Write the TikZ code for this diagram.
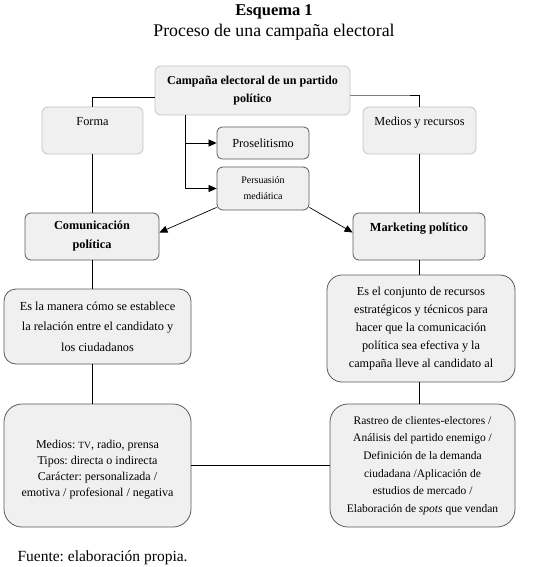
\documentclass[tikz,border=0pt]{standalone}
\usepackage{fontspec}
\setmainfont{Liberation Serif}
\usetikzlibrary{arrows.meta}
\definecolor{boxfill}{HTML}{F0F0F0}
\definecolor{lightb}{HTML}{C4C4C4}
\definecolor{darkb}{HTML}{5A5A5A}
\frenchspacing
\begin{document}
\begin{tikzpicture}[x=1pt,y=-1pt,
  box/.style={draw=#1, fill=boxfill, rounded corners=6pt, align=center, inner sep=0pt, line width=0.8pt},
  arr/.style={-{Triangle[length=8pt,width=7pt]}, line width=0.7pt},
  conn/.style={line width=0.7pt}]
\useasboundingbox (0,0) rectangle (548,567);

\node[anchor=base, font=\fontsize{16.5}{18}\selectfont\bfseries] (t1) at (274,16) {Esquema 1};
\node[anchor=base, font=\fontsize{17.8}{18}\selectfont] (t2) at (274,37) {Proceso de una campaña electoral};

\node[box=lightb, minimum width=195pt, minimum height=49pt, font=\fontsize{12.1}{18}\selectfont\bfseries] (camp) at (252.5,90.5) {Campaña electoral de un partido\\político};
\node[box=lightb, minimum width=101pt, minimum height=47pt, font=\fontsize{12.3}{18}\selectfont, text height=8pt, text depth=18pt] (forma) at (92.5,130.5) {Forma};
\node[box=lightb, minimum width=113pt, minimum height=47pt, font=\fontsize{12.3}{18}\selectfont, text height=8pt, text depth=18pt] (medios) at (419.5,130.5) {Medios y recursos};
\node[box=darkb, minimum width=92pt, minimum height=32pt, rounded corners=5pt, font=\fontsize{12.3}{18}\selectfont] (pros) at (263,143) {Proselitismo};
\node[box=darkb, minimum width=92pt, minimum height=43pt, font=\fontsize{10}{16}\selectfont] (pers) at (263,188.5) {Persuasión\\mediática};
\node[box=darkb, minimum width=134pt, minimum height=47pt, font=\fontsize{12.3}{19}\selectfont\bfseries] (com) at (92,236.5) {Comunicación\\política};
\node[box=darkb, minimum width=132pt, minimum height=47pt, font=\fontsize{12.3}{18}\selectfont\bfseries, text height=8pt, text depth=18pt] (mkt) at (419,236.5) {Marketing político};
\node[box=darkb, rounded corners=12pt, minimum width=187pt, minimum height=75pt, font=\fontsize{12.3}{20.5}\selectfont] (esla) at (97.5,326.5) {Es la manera cómo se establece\\la relación entre el candidato y\\los ciudadanos};
\node[box=darkb, rounded corners=15pt, minimum width=188pt, minimum height=107pt, font=\fontsize{12.2}{18}\selectfont] (esel) at (421,328.5) {Es el conjunto de recursos\\estratégicos y técnicos para\\hacer que la comunicación\\política sea efectiva y la\\campaña lleve al candidato al};
\node[box=darkb, rounded corners=18pt, minimum width=187pt, minimum height=123pt, font=\fontsize{12}{16}\selectfont] (bl) at (97.5,465.5) {\rule{0pt}{16pt}Medios: {\fontsize{9.5}{16}\selectfont TV}, radio, prensa\\Tipos: directa o indirecta\\Carácter: personalizada /\\emotiva / profesional / negativa};
\node[box=darkb, rounded corners=18pt, minimum width=185pt, minimum height=123pt, font=\fontsize{11.5}{17.6}\selectfont] (br) at (422.5,465.5) {Rastreo de clientes-electores /\\Análisis del partido enemigo /\\Definición de la demanda\\ciudadana /Aplicación de\\estudios de mercado /\\Elaboración de \textit{spots} que vendan};

\node[anchor=base west, font=\fontsize{15.5}{18}\selectfont] (src) at (14,561) {Fuente: elaboración propia.};

\coordinate (l1) at (0,97);
\coordinate (r1) at (0,95);
\coordinate (r2) at (410,95);
\coordinate (trunk) at (185,0);

\draw[conn] (camp.west |- l1) -| (forma.north);
\draw[conn, gray] (camp.east |- r1) -- (r2);
\draw[conn] (r2) -| (medios.north);
\draw[arr] (trunk |- camp.south) |- (pers.west);
\draw[arr] (trunk |- pros.west) -- (pros.west);
\draw[arr] ([yshift=3pt]pers.south west) -- ([yshift=4pt]com.east);
\draw[arr] ([yshift=3pt]pers.south east) -- ([yshift=4pt]mkt.west);

\draw[conn] (forma.south) -- (forma.south |- com.north);
\draw[conn] (com.south) -- (com.south |- esla.north);
\draw[conn] (com.south |- esla.south) -- (com.south |- bl.north);
\draw[conn] (medios.south) -- (medios.south |- mkt.north);
\draw[conn] (mkt.south) -- (mkt.south |- esel.north);
\draw[conn] (mkt.south |- esel.south) -- (mkt.south |- br.north);
\draw[conn] (bl.east) -- (br.west);
\end{tikzpicture}
\end{document}
